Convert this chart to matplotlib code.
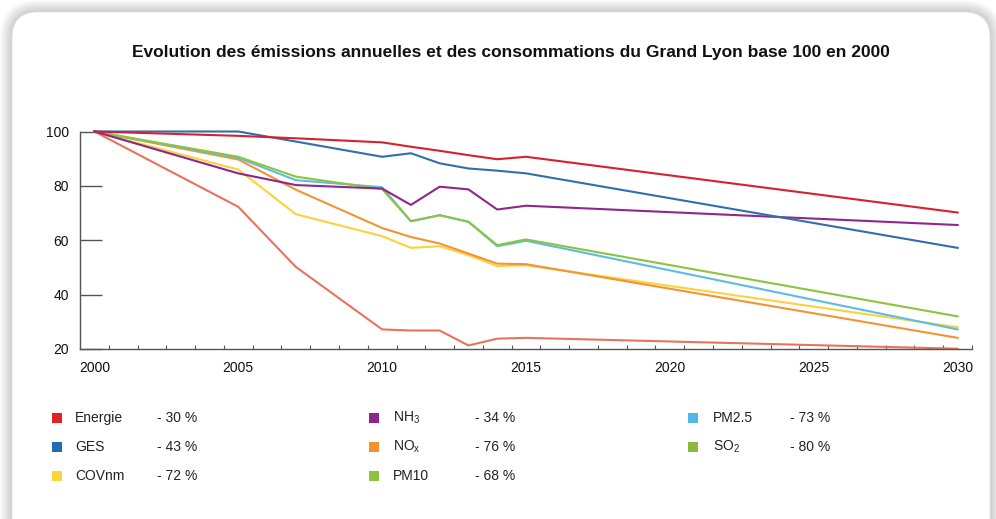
import numpy as np
import matplotlib.pyplot as plt
from matplotlib.patches import FancyBboxPatch, Rectangle
from matplotlib.transforms import IdentityTransform

plt.rcParams['font.family'] = ['Liberation Sans', 'DejaVu Sans']
plt.rcParams['mathtext.default'] = 'regular'

# data (index, base 100 in 2000)
years = [2000, 2005, 2007, 2010, 2011, 2012, 2013, 2014, 2015, 2030]
energie = [100, 98.4, 97.5, 96.0, 94.4, 92.9, 91.3, 89.8, 90.7, 70.2]
ges = [100, 100, 96.3, 90.7, 92.0, 88.3, 86.4, 85.6, 84.6, 57.2]
covnm = [100, 86.0, 69.6, 61.5, 57.2, 57.8, 54.5, 50.5, 50.8, 28.0]
nh3 = [100, 84.6, 80.3, 79.0, 73.0, 79.7, 78.7, 71.3, 72.7, 65.6]
nox = [100, 89.7, 78.6, 64.5, 61.2, 58.8, 55.1, 51.4, 51.2, 24.1]
pm10 = [100, 90.7, 83.4, 78.8, 67.0, 69.2, 66.8, 58.2, 60.3, 32.0]
pm25 = [100, 90.3, 82.1, 79.5, 67.0, 69.2, 66.8, 57.8, 59.8, 27.2]
so2 = [100, 72.3, 50.2, 27.2, 26.8, 26.8, 21.3, 23.8, 24.1, 20.1]

names = ['Energie', 'GES', 'COVnm', r'NH$_3$', r'NO$_x$', 'PM10', 'PM2.5', r'SO$_2$']
changes = ['- 30 %', '- 43 %', '- 72 %', '- 34 %', '- 76 %', '- 68 %', '- 73 %', '- 80 %']
series = [energie, ges, covnm, nh3, nox, pm10, pm25, so2]

legend_colors = ['#e31e24', '#1f6db3', '#fdd43a', '#8e268d', '#f5922f',
                 '#8dc13f', '#4fb9e8', '#8db83e']
line_colors = ['#d7202e', '#2f6fae', '#fbd23c', '#8e268d', '#f39434',
               '#8cc43f', '#5bbde6', '#e8735c']
draw_order = [7, 2, 4, 6, 5, 3, 1, 0]

xticks = list(range(2000, 2031, 5))
yticks = [20, 40, 60, 80, 100]
title = 'Evolution des émissions annuelles et des consommations du Grand Lyon base 100 en 2000'

W, H = 996, 519
fig = plt.figure(figsize=(W / 100, H / 100), dpi=100)


def fpos(x, y):
    """pixel position (from top-left) to figure fraction"""
    return x / W, 1 - y / H


# rounded card with soft shadow (pixel coordinates), bottom runs off the image
bx, by, bw, bh, rad = 12, -30, 978, 537, 26
for i in range(12, 0, -1):
    sh = FancyBboxPatch((bx - i, by - i), bw + 2 * i, bh + 2 * i,
                        boxstyle=f'round,pad=0,rounding_size={rad + i}',
                        fc='black', ec='none', alpha=0.016,
                        transform=IdentityTransform(), zorder=-20)
    fig.add_artist(sh)
card = FancyBboxPatch((bx, by), bw, bh, boxstyle=f'round,pad=0,rounding_size={rad}',
                      fc='white', ec='#e4e4e4', lw=0.6,
                      transform=IdentityTransform(), zorder=-10)
fig.add_artist(card)

ax = fig.add_axes([80 / W, 1 - 349 / H, (972 - 80) / W, (349 - 131.5) / H])
ax.set_facecolor('none')

for k in draw_order:
    ax.plot(years, series[k], color=line_colors[k], lw=1.5, clip_on=False,
            solid_joinstyle='round')

ax.set_xlim(1999.5, 2030.5)
ax.set_ylim(20, 100)
for s in ['top', 'right']:
    ax.spines[s].set_visible(False)
for s in ['left', 'bottom']:
    ax.spines[s].set_color('#555555')
    ax.spines[s].set_linewidth(1.0)

ax.set_yticks(yticks)
ax.set_xticks(xticks)
ax.set_xticks(np.arange(1999.5, 2031, 1), minor=True)
ax.tick_params(axis='y', direction='in', length=16, width=1, color='#555555',
               pad=8, labelsize=10, labelcolor='#111111')
ax.tick_params(axis='x', which='major', length=0, pad=9, labelsize=10,
               labelcolor='#111111')
ax.tick_params(axis='x', which='minor', direction='in', length=3, width=0.8,
               color='#555555')

fig.text(*fpos(511, 52), title, ha='center', va='center', fontsize=12.5,
         fontweight='bold', color='#111111')

# legend: three columns of three rows
sq_x = [52, 369, 688]
lab_x = [75, 393, 713]
val_x = [157, 475, 790]
row_y = [418, 447, 476]
for i, (name, chg) in enumerate(zip(names, changes)):
    col, row = divmod(i, 3)
    y = row_y[row]
    fig.add_artist(Rectangle((sq_x[col], H - y - 5), 10, 10, fc=legend_colors[i],
                             ec='none', transform=IdentityTransform()))
    fig.text(*fpos(lab_x[col], y), name, ha='left', va='center', fontsize=10,
             color='#222222')
    fig.text(*fpos(val_x[col], y), chg, ha='left', va='center', fontsize=10,
             color='#222222')

fig.savefig('out.png', dpi=100)
